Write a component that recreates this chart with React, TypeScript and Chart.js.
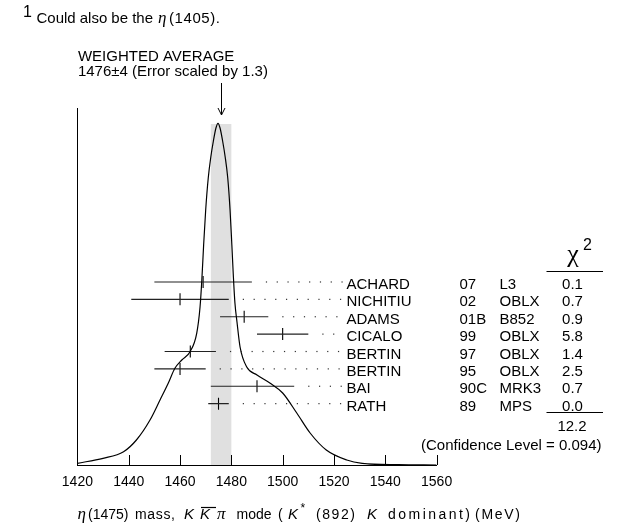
import React, { useEffect, useRef } from 'react';
import { Chart, registerables } from 'chart.js';
Chart.register(...registerables);

// ---- data ----
const names = ['ACHARD', 'NICHITIU', 'ADAMS', 'CICALO', 'BERTIN', 'BERTIN', 'BAI', 'RATH'];
const years = ['07', '02', '01B', '99', '97', '95', '90C', '89'];
const experiments = ['L3', 'OBLX', 'B852', 'OBLX', 'OBLX', 'OBLX', 'MRK3', 'MPS'];
const values = [1469, 1460, 1485, 1500, 1464, 1460, 1490, 1475];
const errMinus = [19, 19, 9.4, 10, 10, 10, 18, 4];
const errPlus = [19, 19, 9.4, 10, 10, 10, 14.5, 4];
const chi2 = ['0.1', '0.7', '0.9', '5.8', '1.4', '2.5', '0.7', '0.0'];
const chi2Total = '12.2';
const confidenceLevel = '0.094';
const avgValue = 1476;
const avgError = 4;
const errorScale = '1.3';
const bandTop = 341;
const xTicks = [1420, 1440, 1460, 1480, 1500, 1520, 1540, 1560];

// ideogram curve (mass, height)
const curveX = [1420, 1430, 1438, 1443, 1448.3, 1452.2, 1455.4, 1458, 1460.7, 1463.9, 1466.5, 1467.8,
  1468.5, 1469.2, 1470, 1471, 1472, 1473, 1474, 1474.8, 1475.6, 1476.6, 1477.6, 1478.6, 1479.5,
  1480.2, 1480.8, 1481.4, 1482.2, 1483.4, 1486, 1490, 1495, 1500, 1505.5, 1510.7, 1517, 1525, 1531, 1545, 1560];
const curveY = [1.7, 6.7, 13.3, 25, 45, 65, 81.7, 96.7, 105, 113.3, 131.7, 158,
  185, 220, 255, 287, 308, 324, 337, 341.7, 337, 324, 308, 287, 255,
  220, 188, 162, 143, 118, 98, 90, 82, 72, 52, 32, 15, 5, 1.7, 0.3, 0];

const SANS = '"Liberation Sans", Arial, Helvetica, sans-serif';
const SERIF = '"Liberation Serif", "DejaVu Serif", serif';

function fit(ctx: CanvasRenderingContext2D, text: string, font: string, x0: number, x1: number, y: number) {
  ctx.font = font;
  const chars = Array.from(text);
  const widths = chars.map((c) => ctx.measureText(c).width);
  const total = widths.reduce((a, b) => a + b, 0);
  const gap = chars.length > 1 ? (x1 - x0 - total) / (chars.length - 1) : 0;
  let x = x0;
  chars.forEach((c, i) => {
    ctx.fillText(c, x, y);
    x += widths[i] + gap;
  });
}

const overlay = {
  id: 'overlay',
  beforeDatasetsDraw(chart: any) {
    const { ctx, scales } = chart;
    const x = scales.x, y = scales.y;
    const l = x.getPixelForValue(avgValue - avgError);
    const r = x.getPixelForValue(avgValue + avgError);
    const t = y.getPixelForValue(bandTop);
    const b = y.getPixelForValue(0);
    ctx.save();
    ctx.fillStyle = '#e0e0e0';
    ctx.fillRect(l, t, r - l, b - t);
    ctx.restore();
  },
  afterDraw(chart: any) {
    const { ctx, scales, chartArea } = chart;
    const x = scales.x, yr = scales.yr;
    ctx.save();
    // inward tick marks
    ctx.strokeStyle = '#000';
    ctx.lineWidth = 1;
    x.ticks.forEach((t: any) => {
      const px = Math.round(x.getPixelForValue(t.value)) + 0.5;
      ctx.beginPath();
      ctx.moveTo(px, chartArea.bottom);
      ctx.lineTo(px, chartArea.bottom - 10);
      ctx.stroke();
    });
    // arrow
    const ax = Math.round(x.getPixelForValue(avgValue)) + 0.5;
    ctx.beginPath();
    ctx.moveTo(ax, 83);
    ctx.lineTo(ax, 115);
    ctx.moveTo(ax - 3.5, 108);
    ctx.lineTo(ax, 115);
    ctx.lineTo(ax + 3.5, 108);
    ctx.stroke();

    // header text
    ctx.fillStyle = '#000';
    ctx.textAlign = 'left';
    ctx.textBaseline = 'alphabetic';
    ctx.font = `15px ${SANS}`;
    ctx.fillText('WEIGHTED AVERAGE', chartArea.left + 0.5, 61);
    ctx.fillText(`${avgValue}\u00B1${avgError} (Error scaled by ${errorScale})`, chartArea.left + 0.5, 75.5);

    // rows
    names.forEach((n, i) => {
      const yPx = yr.getPixelForValue(i);
      const end = x.getPixelForValue(values[i] + errPlus[i]);
      ctx.fillStyle = '#333';
      for (let px = end + 14; px < 343; px += 10.8) {
        ctx.fillRect(px, yPx - 0.6, 1.2, 1.2);
      }
      ctx.fillStyle = '#000';
      ctx.font = `15px ${SANS}`;
      ctx.textAlign = 'left';
      ctx.fillText(n, 346.5, yPx + 7);
      ctx.fillText(years[i], 459.5, yPx + 7);
      ctx.fillText(experiments[i], 499.5, yPx + 7);
      ctx.textAlign = 'center';
      ctx.fillText(chi2[i], 572.5, yPx + 7);
    });
    // chi2 header
    ctx.textAlign = 'center';
    ctx.font = `26px ${SERIF}`;
    ctx.fillText('\u03C7', 573, 262);
    ctx.textAlign = 'left';
    ctx.font = `16px ${SANS}`;
    ctx.fillText('2', 583, 250);
    ctx.beginPath();
    ctx.moveTo(546.5, 271.5);
    ctx.lineTo(603, 271.5);
    ctx.moveTo(546.5, 412.5);
    ctx.lineTo(603, 412.5);
    ctx.stroke();
    ctx.textAlign = 'center';
    ctx.font = `15px ${SANS}`;
    ctx.fillText(chi2Total, 572, 431);
    ctx.textAlign = 'right';
    ctx.fillText(`(Confidence Level = ${confidenceLevel})`, 601.5, 450);

    // footnote
    ctx.textAlign = 'left';
    ctx.font = `16px ${SANS}`;
    ctx.fillText('1', 23, 16.5);
    fit(ctx, 'Could also be the', `15px ${SANS}`, 36.5, 153, 22.5);
    ctx.font = `italic 17px ${SERIF}`;
    ctx.fillText('\u03B7', 158, 22.5);
    fit(ctx, '(1405).', `15px ${SANS}`, 169, 220, 22.5);

    // x axis title
    const bl = 519;
    const sans = `14px ${SANS}`;
    const ital = `italic 15px ${SANS}`;
    const mathIt = `italic 17px ${SERIF}`;
    ctx.font = mathIt;
    ctx.fillText('\u03B7', 77.5, bl);
    fit(ctx, '(1475)', sans, 88, 128.5, bl);
    fit(ctx, 'mass,', sans, 135, 175, bl);
    ctx.font = ital;
    ctx.fillText('K', 184, bl);
    ctx.fillText('K', 200, bl);
    ctx.beginPath();
    ctx.moveTo(201, 507.5);
    ctx.lineTo(216, 507.5);
    ctx.lineWidth = 1.2;
    ctx.stroke();
    ctx.font = mathIt;
    ctx.fillText('\u03C0', 217, bl);
    fit(ctx, 'mode', sans, 236.5, 271.5, bl);
    ctx.font = sans;
    ctx.fillText('(', 278, bl);
    ctx.font = ital;
    ctx.fillText('K', 288, bl);
    ctx.font = `12px ${SANS}`;
    ctx.fillText('*', 300.5, 512);
    fit(ctx, '(892)', sans, 316, 355, bl);
    ctx.font = ital;
    ctx.fillText('K', 367, bl);
    fit(ctx, 'dominant)', sans, 388, 470, bl);
    fit(ctx, '(MeV)', sans, 475, 520, bl);
    ctx.restore();
  },
};

export default function App() {
  const ref = useRef<HTMLCanvasElement>(null);
  useEffect(() => {
    const canvas = ref.current!;
    const datasets: any[] = [];
    datasets.push({
      type: 'line',
      data: curveX.map((v, i) => ({ x: v, y: curveY[i] })),
      yAxisID: 'y',
      borderColor: '#000',
      borderWidth: 1.2,
      pointRadius: 0,
      cubicInterpolationMode: 'monotone',
      fill: false,
    });
    values.forEach((v, i) => {
      datasets.push({
        type: 'line',
        data: [{ x: v - errMinus[i], y: i }, { x: v + errPlus[i], y: i }],
        yAxisID: 'yr',
        borderColor: '#222',
        borderWidth: 1.1,
        pointRadius: 0,
        fill: false,
      });
    });
    datasets.push({
      type: 'scatter',
      data: values.map((v, i) => ({ x: v, y: i })),
      yAxisID: 'yr',
      pointStyle: 'line',
      rotation: 90,
      pointRadius: 6,
      borderColor: '#000',
      borderWidth: 1.1,
    });
    const chart = new Chart(canvas, {
      type: 'line',
      data: { datasets },
      options: {
        animation: false,
        responsive: false,
        events: [],
        plugins: { legend: { display: false }, tooltip: { enabled: false } },
        layout: { padding: { left: 77.4, top: 108, right: 184.4, bottom: 0 } },
        scales: {
          x: {
            type: 'linear',
            min: 1420,
            max: 1560,
            afterBuildTicks: (s: any) => { s.ticks = xTicks.map((v) => ({ value: v })); },
            afterFit: (s: any) => { s.height = 64; },
            grid: { display: false, drawTicks: false },
            border: { display: true, color: '#000', width: 1 },
            ticks: {
              color: '#000',
              font: { family: SANS, size: 14 },
              padding: 9,
              maxRotation: 0,
              autoSkip: false,
              callback: (v: any) => String(v),
            },
          },
          y: {
            type: 'linear',
            position: 'left',
            min: 0,
            max: 357,
            afterFit: (s: any) => { s.width = 0; },
            grid: { display: false, drawTicks: false },
            border: { display: true, color: '#000', width: 1 },
            ticks: { display: false },
          },
          yr: {
            type: 'linear',
            position: 'right',
            min: -10.01,
            max: 10.53,
            reverse: true,
            display: false,
          },
        },
      } as any,
      plugins: [overlay],
    } as any);
    return () => chart.destroy();
  }, []);
  return (
    <div style={{ position: 'absolute', left: 0, top: 0, width: 621, height: 529, background: '#fff' }}>
      <canvas ref={ref} width={621} height={529} style={{ display: 'block', width: 621, height: 529 }} />
    </div>
  );
}
